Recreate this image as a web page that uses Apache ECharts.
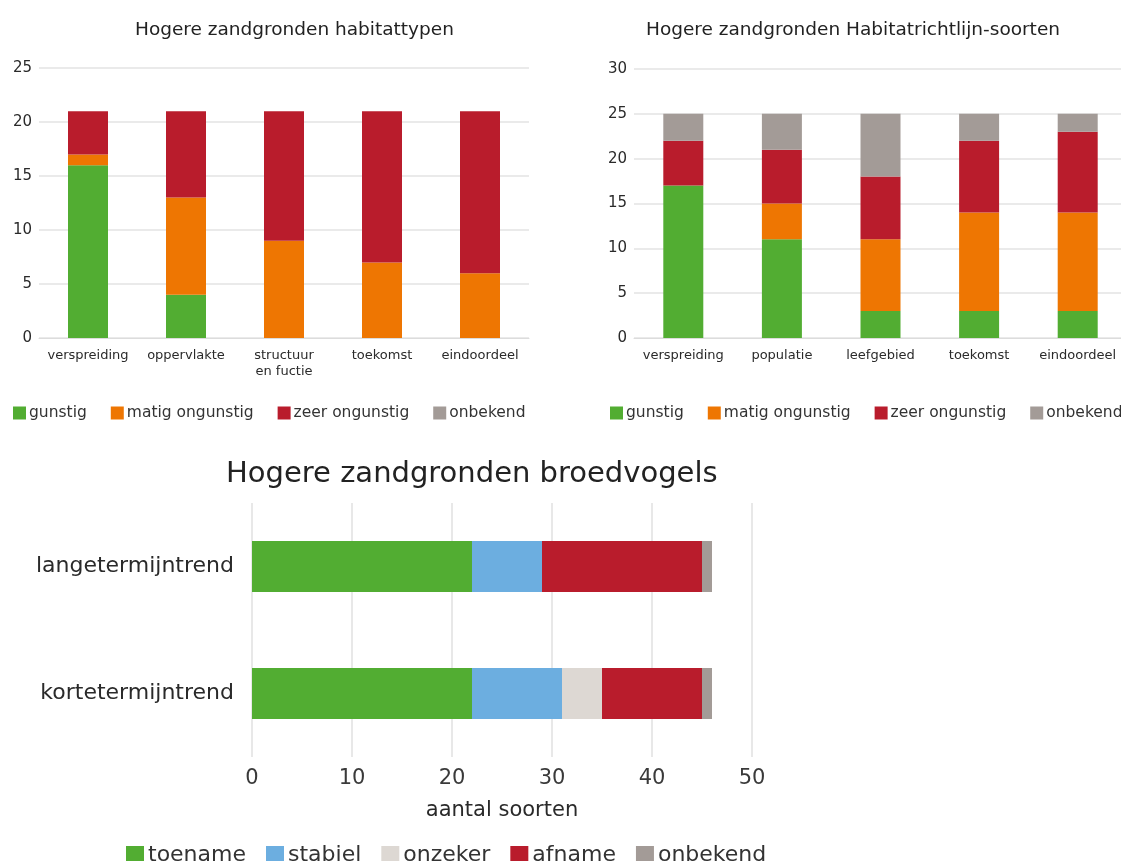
<!DOCTYPE html>
<html>
<head>
<meta charset="utf-8">
<script src="https://cdn.jsdelivr.net/npm/echarts@6/dist/echarts.min.js"></script>
<style>
html,body{margin:0;padding:0;background:#fff;overflow:hidden;width:1121px;height:861px;}
#c1{position:absolute;left:0;top:0;width:560px;height:430px;}
#c2{position:absolute;left:560px;top:0;width:570px;height:430px;}
#c3{position:absolute;left:0;top:440px;width:1121px;height:421px;}
</style>
</head>
<body>
<div id="c1"></div>
<div id="c2"></div>
<div id="c3"></div>
<script>
// ---- Data: Hogere zandgronden habitattypen ----
const habCategories = ['verspreiding', 'oppervlakte', 'structuur\nen fuctie', 'toekomst', 'eindoordeel'];
const habGunstig = [16, 4, 0, 0, 0];
const habMatig = [1, 9, 9, 7, 6];
const habZeer = [4, 8, 12, 14, 15];
const habOnbekend = [0, 0, 0, 0, 0];

// ---- Data: Hogere zandgronden Habitatrichtlijn-soorten ----
const hrCategories = ['verspreiding', 'populatie', 'leefgebied', 'toekomst', 'eindoordeel'];
const hrGunstig = [17, 11, 3, 3, 3];
const hrMatig = [0, 4, 8, 11, 11];
const hrZeer = [5, 6, 7, 8, 9];
const hrOnbekend = [3, 4, 7, 3, 2];

// ---- Data: Hogere zandgronden broedvogels ----
const bvCategories = ['langetermijntrend', 'kortetermijntrend'];
const bvToename = [22, 22];
const bvStabiel = [7, 9];
const bvOnzeker = [0, 4];
const bvAfname = [16, 10];
const bvOnbekend = [1, 1];

const FONT = 'DejaVu Sans';
const C = {
  green: '#52ad32', orange: '#ee7602', red: '#b91c2c', grey: '#a39b97',
  blue: '#6caee0', light: '#ddd8d3'
};

function barSeries(name, data, color, width) {
  return {
    name: name, type: 'bar', stack: 'total', data: data, barWidth: width,
    itemStyle: { color: color }, emphasis: { disabled: true }
  };
}

function verticalOption(title, titleLeft, cats, vals, ymax, grid) {
  return {
    animation: false,
    backgroundColor: '#fff',
    title: {
      text: title, left: titleLeft, top: 16,
      textStyle: { fontFamily: FONT, fontSize: 18.5, fontWeight: 'normal', color: '#222' }
    },
    legend: {
      left: grid.legendLeft, top: 400, itemWidth: 13, itemHeight: 13, itemGap: 24,
      icon: 'rect',
      textStyle: { fontFamily: FONT, fontSize: 15.5, color: '#333', padding: [0, 0, 0, -2] },
      data: ['gunstig', 'matig ongunstig', 'zeer ongunstig', 'onbekend']
    },
    grid: { left: grid.left, right: grid.right, top: grid.top, bottom: grid.bottom },
    xAxis: {
      type: 'category', data: cats,
      axisLine: { lineStyle: { color: '#dcdcdc' } },
      axisTick: { show: false },
      axisLabel: { fontFamily: FONT, fontSize: 13, color: '#2a2a2a', margin: 10, lineHeight: 16, interval: 0 }
    },
    yAxis: {
      type: 'value', min: 0, max: ymax, interval: 5,
      axisLine: { show: false }, axisTick: { show: false },
      splitLine: { lineStyle: { color: '#e3e3e3', width: 1.5 } },
      axisLabel: { fontFamily: FONT, fontSize: 15, color: '#2a2a2a', margin: 7 }
    },
    series: [
      barSeries('gunstig', vals[0], C.green, 40),
      barSeries('matig ongunstig', vals[1], C.orange, 40),
      barSeries('zeer ongunstig', vals[2], C.red, 40),
      barSeries('onbekend', vals[3], C.grey, 40)
    ]
  };
}

const c1 = echarts.init(document.getElementById('c1'));
c1.setOption(verticalOption('Hogere zandgronden habitattypen', 130, habCategories,
  [habGunstig, habMatig, habZeer, habOnbekend], 25,
  { left: 39, right: 31, top: 68, bottom: 92, legendLeft: 8 }));

const c2 = echarts.init(document.getElementById('c2'));
c2.setOption(verticalOption('Hogere zandgronden Habitatrichtlijn-soorten', 81, hrCategories,
  [hrGunstig, hrMatig, hrZeer, hrOnbekend], 30,
  { left: 74, right: 3, top: 69, bottom: 92, legendLeft: 45 }));

const c3 = echarts.init(document.getElementById('c3'));
c3.setOption({
  animation: false,
  backgroundColor: '#fff',
  title: {
    text: 'Hogere zandgronden broedvogels', left: 221, top: 15,
    textStyle: { fontFamily: FONT, fontSize: 29, fontWeight: 'normal', color: '#222' }
  },
  legend: {
    left: 121, top: 399, itemWidth: 18, itemHeight: 18, itemGap: 20, icon: 'rect',
    textStyle: { fontFamily: FONT, fontSize: 22, color: '#333', padding: [0, 0, 0, -1] },
    data: ['toename', 'stabiel', 'onzeker', 'afname', 'onbekend']
  },
  grid: { left: 252, right: 369, top: 63, bottom: 104 },
  xAxis: {
    type: 'value', min: 0, max: 50, interval: 10,
    name: 'aantal soorten', nameLocation: 'middle', nameGap: 43,
    nameTextStyle: { fontFamily: FONT, fontSize: 21, color: '#2a2a2a' },
    axisLine: { show: false }, axisTick: { show: false },
    splitLine: { lineStyle: { color: '#e0e0e0', width: 1.5 } },
    axisLabel: { fontFamily: FONT, fontSize: 21, color: '#3a3a3a', margin: 11 }
  },
  yAxis: {
    type: 'category', data: bvCategories, inverse: true,
    axisLine: { show: false }, axisTick: { show: false },
    axisLabel: { fontFamily: FONT, fontSize: 22, color: '#2a2a2a', margin: 18 }
  },
  series: [
    barSeries('toename', bvToename, C.green, 51),
    barSeries('stabiel', bvStabiel, C.blue, 51),
    barSeries('onzeker', bvOnzeker, C.light, 51),
    barSeries('afname', bvAfname, C.red, 51),
    barSeries('onbekend', bvOnbekend, C.grey, 51)
  ]
});
</script>
</body>
</html>
